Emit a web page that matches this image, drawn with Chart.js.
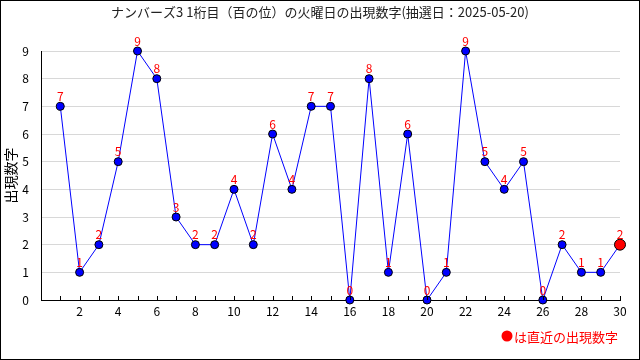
<!DOCTYPE html>
<html lang="ja">
<head>
<meta charset="UTF-8">
<script src="https://cdn.jsdelivr.net/npm/chart.js"></script>
<style>
  body { margin: 0; background: #fff; }
  #wrap { width: 640px; height: 360px; }
</style>
</head>
<body>
<div id="wrap"><canvas id="myChart" width="640" height="360"></canvas></div>
<script>
const titulo = 'ナンバーズ3 1桁目（百の位）の火曜日の出現数字(抽選日：2025-05-20)';
const kaisu = [1,2,3,4,5,6,7,8,9,10,11,12,13,14,15,16,17,18,19,20,21,22,23,24,25,26,27,28,29,30];
const suuji = [7,1,2,5,9,8,3,2,2,4,2,6,4,7,7,0,8,1,6,0,1,9,5,4,5,0,2,1,1,2];
const yTicks = [0,1,2,3,4,5,6,7,8,9];
const fonte = '"Noto Sans CJK JP", "DejaVu Sans", sans-serif';

const pontos = kaisu.map((x, i) => ({ x: x, y: suuji[i] }));
const ultimo = pontos.length - 1;

// red numbers above points, tick marks, title, note, frame
const extras = {
  id: 'extras',
  afterDatasetsDraw(chart) {
    const ctx = chart.ctx;
    const meta = chart.getDatasetMeta(0);
    const xs = chart.scales.x;
    const area = chart.chartArea;
    ctx.save();
    // x tick marks pointing up
    ctx.strokeStyle = '#000';
    ctx.lineWidth = 1;
    for (let v = 1; v <= 30; v++) {
      const px = Math.round(xs.getPixelForValue(v)) + 0.5;
      ctx.beginPath();
      ctx.moveTo(px, area.bottom);
      ctx.lineTo(px, area.bottom - 4);
      ctx.stroke();
    }
    ctx.font = '12px ' + fonte;
    ctx.fillStyle = '#ff0000';
    ctx.textAlign = 'center';
    ctx.textBaseline = 'bottom';
    meta.data.forEach((p, i) => {
      ctx.fillText(String(suuji[i]), p.x, p.y - 4);
    });
    ctx.restore();
  },
  afterDraw(chart) {
    const ctx = chart.ctx;
    ctx.save();
    ctx.font = '13px ' + fonte;
    ctx.fillStyle = '#222';
    ctx.textAlign = 'center';
    ctx.textBaseline = 'middle';
    ctx.fillText(titulo, 320, 12);
    // note
    ctx.fillStyle = '#ff0000';
    ctx.beginPath();
    ctx.arc(507, 336, 5.5, 0, Math.PI * 2);
    ctx.fill();
    ctx.font = '13px ' + fonte;
    ctx.textAlign = 'left';
    ctx.fillText('は直近の出現数字', 514, 337);
    // frame
    ctx.strokeStyle = '#000';
    ctx.lineWidth = 1;
    ctx.strokeRect(0.5, 0.5, 639, 359);
    ctx.restore();
  }
};

const config = {
  type: 'line',
  data: {
    datasets: [{
      data: pontos,
      clip: false,
      borderColor: '#0000ff',
      borderWidth: 1,
      backgroundColor: '#0000ff',
      pointBackgroundColor: pontos.map((p, i) => i === ultimo ? '#ff0000' : '#0000ff'),
      pointBorderColor: '#000',
      pointBorderWidth: 1,
      pointRadius: pontos.map((p, i) => i === ultimo ? 5.5 : 4),
      tension: 0
    }]
  },
  options: {
    responsive: false,
    animation: false,
    layout: { padding: { left: 0, top: 51, right: 20, bottom: 0 } },
    plugins: {
      legend: { display: false },
      title: { display: false },
      tooltip: { enabled: false }
    },
    scales: {
      x: {
        type: 'linear',
        min: 0,
        max: 30,
        afterFit: s => { s.height = 60; },
        afterBuildTicks: s => { s.ticks = kaisu.map(v => ({ value: v })); },
        ticks: {
          color: '#000',
          autoSkip: false,
          maxRotation: 0,
          padding: 4,
          font: { size: 12, family: fonte },
          callback: v => (v % 2 === 0 ? String(v) : '')
        },
        grid: { drawOnChartArea: false, drawTicks: false },
        border: { color: '#000', width: 1 }
      },
      y: {
        min: 0,
        max: 9,
        afterFit: s => { s.width = 41; },
        afterBuildTicks: s => { s.ticks = yTicks.map(v => ({ value: v })); },
        ticks: {
          color: '#000',
          padding: 12,
          font: { size: 12, family: fonte }
        },
        grid: { color: '#d8d8d8', drawTicks: false },
        border: { color: '#000', width: 1 },
        title: {
          display: true,
          text: '出現数字',
          color: '#000',
          padding: { top: 2, bottom: 0 },
          font: { size: 14, family: fonte }
        }
      }
    }
  },
  plugins: [extras]
};

new Chart(document.getElementById('myChart').getContext('2d'), config);
</script>
</body>
</html>
